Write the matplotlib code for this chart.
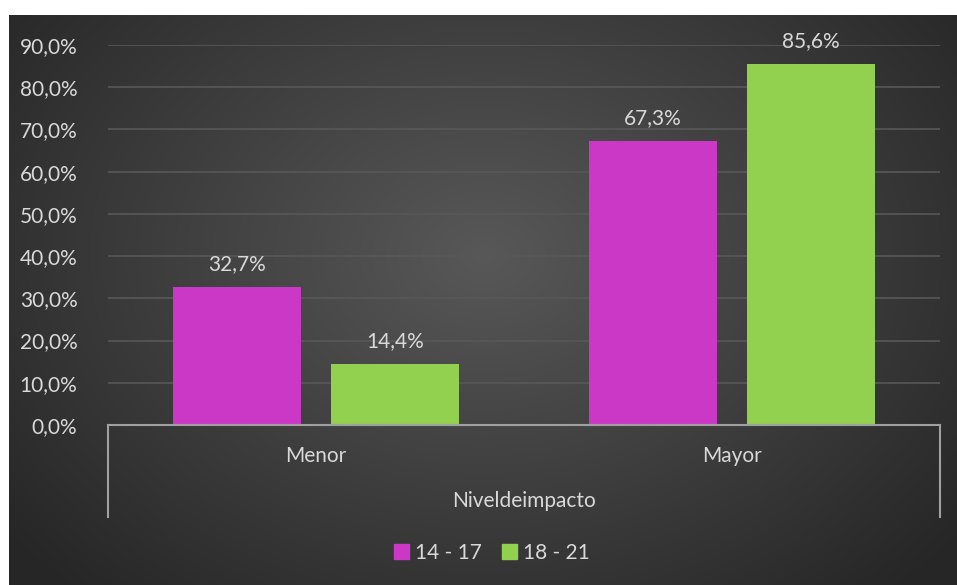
import matplotlib
matplotlib.use("Agg")
import matplotlib.pyplot as plt
import numpy as np

categories = ["Menor", "Mayor"]
series_names = ["14 - 17", "18 - 21"]
values_14_17 = [32.7, 67.3]
values_18_21 = [14.4, 85.6]
yticks = [0, 10, 20, 30, 40, 50, 60, 70, 80, 90]
group_label = "Niveldeimpacto"
colors = ["#cc38c6", "#92d050"]
txt = "#d9d9d9"
FONT = "Lato"
FS = 15

W, H = 957, 585
fig = plt.figure(figsize=(W/100, H/100), dpi=100)
fig.patch.set_facecolor("white")

# background radial gradient
bg = fig.add_axes([9/W, 0, (W-9)/W, (H-15)/H])
ny, nx = 300, 500
yy, xx = np.mgrid[0:ny, 0:nx]
cx, cy = nx*0.5, ny*0.42
r = np.sqrt(((xx-cx)/(nx*0.65))**2 + ((yy-cy)/(ny*0.8))**2)
r = np.clip(r, 0, 1)
c0 = np.array([0x58, 0x58, 0x58])/255
c1 = np.array([0x26, 0x26, 0x26])/255
img = c0[None, None, :]*(1-r[..., None]) + c1[None, None, :]*r[..., None]
bg.imshow(img, aspect="auto", extent=[0, 1, 0, 1], origin="upper")
bg.set_axis_off()

L, R = 108/W, 940/W
B, T = (H-425)/H, (H-45)/H
ax = fig.add_axes([L, B, R-L, T-B])
ax.set_facecolor("none")
x = np.arange(len(categories))
bw = 0.308
off = 0.19
b1 = ax.bar(x-off, values_14_17, bw, color=colors[0], label=series_names[0], zorder=3)
b2 = ax.bar(x+off, values_18_21, bw, color=colors[1], label=series_names[1], zorder=3)
for bars, vals in ((b1, values_14_17), (b2, values_18_21)):
    for rect, v in zip(bars, vals):
        ax.text(rect.get_x()+rect.get_width()/2, v+3.0, f"{v:.1f}%".replace(".", ","),
                ha="center", va="bottom", color=txt, fontsize=FS, family=FONT, clip_on=False)
ax.set_xlim(-0.5, 1.5)
ax.set_ylim(0, 90)
ax.set_yticks(yticks)
ax.set_yticklabels([f"{t:.1f}%".replace(".", ",") for t in yticks], color=txt, fontsize=FS, family=FONT)
ax.tick_params(axis="y", length=0, pad=22)
ax.set_xticks([])
ax.grid(axis="y", color="#585858", linewidth=1.2, zorder=0)
for s in ["top", "right", "left"]:
    ax.spines[s].set_visible(False)
ax.spines["bottom"].set_color("#a0a0a0")
ax.spines["bottom"].set_linewidth(1.5)
ax.spines["bottom"].set_zorder(4)

# category labels and group
for xi, c in zip(x, categories):
    ax.text(xi, -7.4, c, ha="center", va="center", color=txt, fontsize=FS, family=FONT, clip_on=False)
ax.text(0.5, -18.1, group_label, ha="center", va="center", color=txt, fontsize=FS, family=FONT, clip_on=False)
for xe in (-0.5, 1.5):
    ax.plot([xe, xe], [0, -21.8], color="#a0a0a0", linewidth=1.5, clip_on=False, zorder=4)

handles = [plt.Rectangle((0, 0), 1, 1, color=c) for c in colors]
leg = fig.legend(handles, series_names, loc="center", bbox_to_anchor=(492/W, 1-553/H),
                 ncol=2, frameon=False, handlelength=0.7, handleheight=0.7,
                 handletextpad=0.3, columnspacing=1.0, prop={"family": FONT, "size": FS})
for t in leg.get_texts():
    t.set_color(txt)

fig.savefig("out.png", dpi=100, facecolor=fig.get_facecolor())
